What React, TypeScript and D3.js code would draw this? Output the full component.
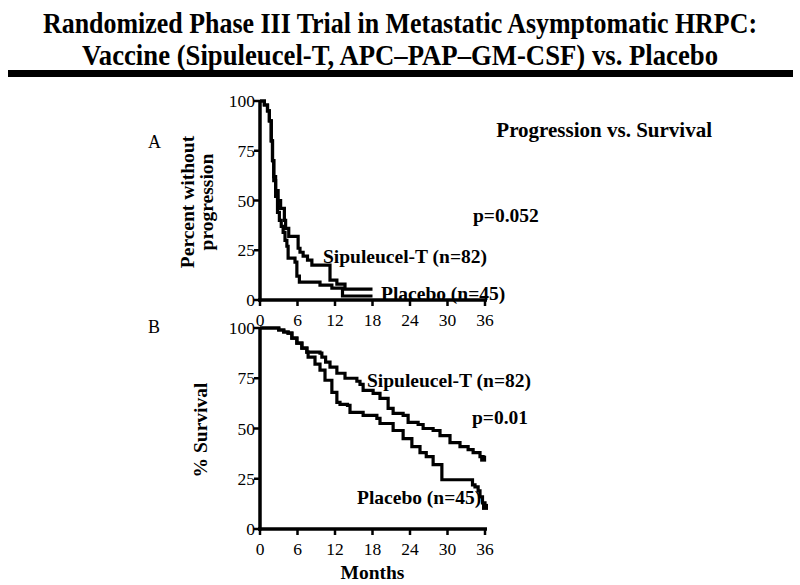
import React, { useLayoutEffect, useRef, useState } from "react";
import * as d3 from "d3";

// ---------- data ----------
const titleLines = [
  "Randomized Phase III Trial in Metastatic Asymptomatic HRPC:",
  "Vaccine (Sipuleucel-T, APC\u2013PAP\u2013GM-CSF) vs. Placebo",
];
const titleWidths = [714, 636];
const monthTicks = [0, 6, 12, 18, 24, 30, 36];
const pctTicks = [0, 25, 50, 75, 100];

// Panel A: progression
const progSipMonths = [0, 0.7, 1.2, 1.5, 1.8, 2.0, 2.2, 2.5, 2.9, 3.3, 3.9, 4.1, 4.6, 6.1, 6.4, 6.9, 7.6, 8.3, 11.2, 12.3, 13.6, 18];
const progSipPct = [100, 98, 95, 90, 80, 70, 62, 55, 50, 46, 40, 36, 32, 26, 24, 22, 20, 17.5, 10, 8, 5.5, 5.5];
const progPlaMonths = [0, 0.7, 1.2, 1.5, 1.8, 2.0, 2.2, 2.5, 2.8, 3.1, 3.4, 3.7, 4.0, 4.3, 4.5, 5.6, 5.9, 6.3, 9.6, 11.5, 13.2, 18];
const progPlaPct = [100, 98, 95, 90, 80, 70, 60, 52, 44, 40, 37, 34, 30, 27, 21, 19, 12, 9, 7.5, 6, 2, 2];

// Panel B: survival
const survSipMonths = [0, 3.0, 3.8, 4.5, 5.1, 5.9, 6.7, 7.5, 9.6, 9.9, 10.5, 11.2, 12.3, 13.6, 15.5, 16.0, 16.5, 18.1, 19.2, 20.5, 21.3, 22.9, 23.7, 25.3, 26.1, 27.7, 28.8, 30.4, 32.0, 33.3, 34.1, 35.2, 35.7];
const survSipPct = [100, 99, 98, 97.5, 95, 92.5, 90, 88, 87.5, 85.5, 83, 80.5, 77.5, 75, 73.5, 72, 69, 67.5, 65, 60, 57.5, 56.5, 53, 52, 50, 49, 46.5, 43, 41, 39.5, 38, 36, 35];
const survPlaMonths = [0, 3.0, 3.8, 4.5, 5.1, 5.9, 6.7, 7.5, 7.7, 8.8, 9.6, 10.4, 11.5, 12.3, 12.8, 14.0, 14.4, 16.5, 18.7, 19.2, 21.3, 22.9, 24.3, 25.6, 26.6, 27.7, 29.1, 34.0, 34.4, 34.9, 35.2, 35.6, 36.0];
const survPlaPct = [100, 99, 98, 97.5, 95, 92.5, 90, 88, 85.5, 82, 79, 74, 68, 63, 62, 61.5, 58, 56.5, 55, 52.5, 49, 45, 41, 38, 36, 32, 24.5, 22, 21, 19, 16, 13, 11];

const zip = (m: number[], p: number[]) => m.map((v, i) => [v, p[i]] as [number, number]);

const FONT = "'Liberation Serif', 'Times New Roman', serif";

function FitTitle({ text, y, width }: { text: string; y: number; width: number }) {
  const ref = useRef<SVGTextElement>(null);
  const [sx, setSx] = useState(0.8);
  useLayoutEffect(() => {
    if (ref.current) {
      const w = ref.current.getComputedTextLength();
      if (w > 0) setSx(width / w);
    }
  }, [text, width]);
  return (
    <g transform={`translate(400,${y}) scale(${sx},1)`}>
      <text ref={ref} x={0} y={0} textAnchor="middle" fontSize={29} fontWeight="bold">{text}</text>
    </g>
  );
}

export default function App() {
  const xS = d3.scaleLinear().domain([0, 36]).range([260, 485]);
  const yA = d3.scaleLinear().domain([0, 100]).range([300, 101]);
  const yB = d3.scaleLinear().domain([0, 100]).range([529, 328]);

  const lineA = d3.line<[number, number]>().x((d) => xS(d[0])).y((d) => yA(d[1])).curve(d3.curveStepAfter);
  const lineB = d3.line<[number, number]>().x((d) => xS(d[0])).y((d) => yB(d[1])).curve(d3.curveStepAfter);

  const axes = (y: d3.ScaleLinear<number, number>, tickLabelY: number) => (
    <g>
      <line x1={xS(0)} x2={xS(0)} y1={y(0) + 1.5} y2={y(100) - 1} stroke="#000" strokeWidth={3.5} />
      <line x1={xS(0) - 2} x2={xS(36) + 2} y1={y(0)} y2={y(0)} stroke="#000" strokeWidth={3.5} />
      {pctTicks.map((t) => (
        <g key={"y" + t}>
          <line x1={xS(0) - 6} x2={xS(0)} y1={y(t)} y2={y(t)} stroke="#000" strokeWidth={2.5} />
          <text x={xS(0) - 5} y={y(t) + 6} textAnchor="end" fontSize={17.5} fontFamily={FONT}>{t}</text>
        </g>
      ))}
      {monthTicks.map((t) => (
        <g key={"x" + t}>
          <line x1={xS(t)} x2={xS(t)} y1={y(0)} y2={y(0) + 6} stroke="#000" strokeWidth={2.5} />
          <text x={xS(t)} y={tickLabelY} textAnchor="middle" fontSize={17.5} fontFamily={FONT}>{t}</text>
        </g>
      ))}
    </g>
  );

  const sipB = zip(survSipMonths, survSipPct);
  const plaB = zip(survPlaMonths, survPlaPct);
  const sipEnd = sipB[sipB.length - 1];
  const plaEnd = plaB[plaB.length - 1];

  return (
    <svg width={800} height={585} style={{ position: "absolute", left: 0, top: 0, background: "#fff" }} fontFamily={FONT}>
      <rect x={0} y={0} width={800} height={585} fill="#fff" />
      {/* title */}
      <FitTitle text={titleLines[0]} y={33} width={titleWidths[0]} />
      <FitTitle text={titleLines[1]} y={65} width={titleWidths[1]} />
      <rect x={8} y={70} width={785} height={7} fill="#000" />

      {/* Panel A */}
      <text x={148} y={148} fontSize={18}>A</text>
      <text x={712} y={137} textAnchor="end" fontSize={21} fontWeight="bold">Progression vs. Survival</text>
      <g transform="translate(194,202) rotate(-90)">
        <text x={0} y={0} textAnchor="middle" fontSize={19.5} fontWeight="bold">Percent without</text>
        <text x={0} y={19} textAnchor="middle" fontSize={19.5} fontWeight="bold">progression</text>
      </g>
      {axes(yA, 326)}
      <path d={lineA(zip(progPlaMonths, progPlaPct)) || ""} fill="none" stroke="#000" strokeWidth={3.2} />
      <path d={lineA(zip(progSipMonths, progSipPct)) || ""} fill="none" stroke="#000" strokeWidth={3.2} />
      <text x={473} y={222} fontSize={19.5} fontWeight="bold">p=0.052</text>
      <text x={323} y={263} fontSize={19.5} fontWeight="bold">Sipuleucel-T (n=82)</text>
      <text x={381} y={300} fontSize={19.5} fontWeight="bold">Placebo (n=45)</text>

      {/* Panel B */}
      <text x={148} y={333} fontSize={18}>B</text>
      <g transform="translate(207,430) rotate(-90)">
        <text x={0} y={0} textAnchor="middle" fontSize={19.5} fontWeight="bold">% Survival</text>
      </g>
      {axes(yB, 555)}
      <path d={lineB(plaB) || ""} fill="none" stroke="#000" strokeWidth={3.2} />
      <path d={lineB(sipB) || ""} fill="none" stroke="#000" strokeWidth={3.2} />
      <rect x={xS(sipEnd[0]) - 3} y={yB(sipEnd[1]) - 3} width={6} height={6} fill="#000" />
      <rect x={xS(plaEnd[0]) - 3} y={yB(plaEnd[1]) - 3} width={6} height={6} fill="#000" />
      <text x={367} y={387} fontSize={19.5} fontWeight="bold">Sipuleucel-T (n=82)</text>
      <text x={472} y={424} fontSize={19.5} fontWeight="bold">p=0.01</text>
      <text x={357} y={504} fontSize={19.5} fontWeight="bold">Placebo (n=45)</text>
      <text x={xS(18)} y={579} textAnchor="middle" fontSize={19.5} fontWeight="bold">Months</text>
    </svg>
  );
}
